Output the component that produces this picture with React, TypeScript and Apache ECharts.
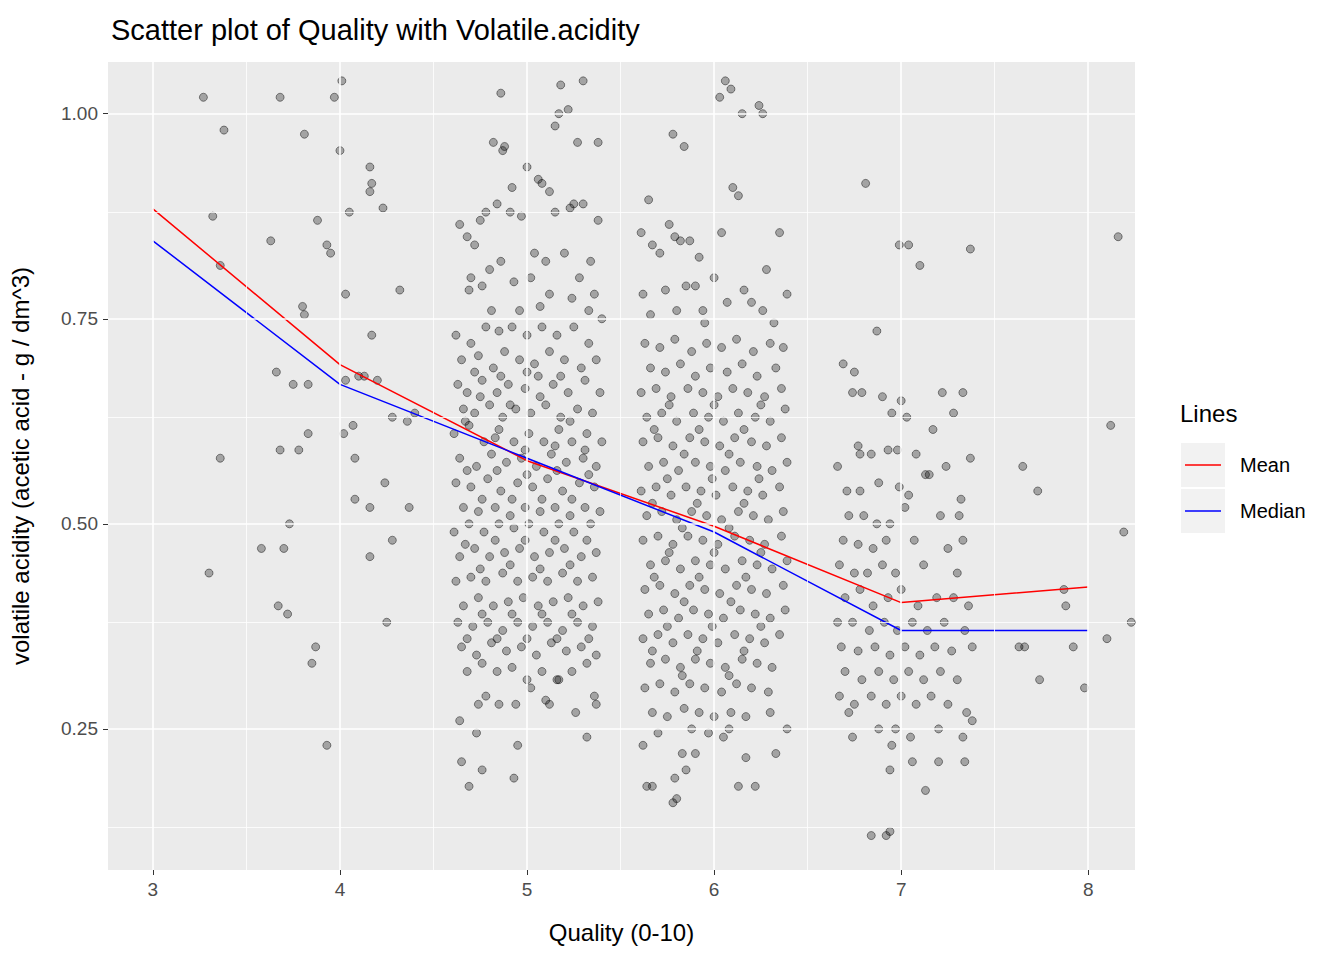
import * as echarts from 'echarts';
import { useEffect, useRef } from 'react';

const qualities = [3, 4, 5, 6, 7, 8];
const meanVals = [0.884, 0.694, 0.577, 0.497, 0.404, 0.423];
const medianVals = [0.845, 0.67, 0.58, 0.49, 0.37, 0.37];

const xMajor = [3, 4, 5, 6, 7, 8];
const xMinor = [3.5, 4.5, 5.5, 6.5, 7.5];
const yMajor = [0.25, 0.5, 0.75, 1.0];
const yMinor = [0.125, 0.375, 0.625, 0.875];

// jittered points [quality + jitter, volatile acidity]
const lowPts: number[][] = [
  [3.27, 1.02], [3.38, 0.98], [3.32, 0.875], [3.36, 0.815], [3.3, 0.44], [3.36, 0.58], [3.63, 0.845], [3.66, 0.685],
  [3.68, 0.59], [3.58, 0.47], [3.67, 0.4], [3.72, 0.39], [3.7, 0.47], [3.73, 0.5], [3.75, 0.67], [3.78, 0.59],
  [3.68, 1.02], [3.81, 0.975], [3.8, 0.765], [3.81, 0.755], [3.83, 0.67], [3.83, 0.61], [3.85, 0.33], [3.87, 0.35],
  [3.88, 0.87], [3.93, 0.84], [3.95, 0.83], [3.93, 0.23], [3.97, 1.02], [4.0, 0.955], [4.01, 1.04], [4.02, 0.61],
  [4.03, 0.78], [4.05, 0.88], [4.07, 0.62], [4.08, 0.58], [4.08, 0.53], [4.1, 0.68], [4.16, 0.935], [4.17, 0.915],
  [4.16, 0.905], [4.13, 0.68], [4.17, 0.73], [4.16, 0.52], [4.16, 0.46], [4.2, 0.675], [4.23, 0.885], [4.24, 0.55],
  [4.25, 0.38], [4.28, 0.48], [4.28, 0.63], [4.32, 0.785], [4.36, 0.625], [4.37, 0.52], [4.4, 0.635], [4.03, 0.675],
];
const q5Pts: number[][] = [
  [4.86, 1.025], [5.18, 1.035], [5.3, 1.04], [5.17, 1.0], [5.22, 1.005], [5.15, 0.985], [5.38, 0.965], [5.27, 0.965],
  [4.82, 0.965], [4.88, 0.96], [4.87, 0.955], [5.0, 0.935], [5.06, 0.92], [5.08, 0.915], [4.92, 0.91], [5.12, 0.905],
  [5.25, 0.89], [5.3, 0.89], [5.23, 0.885], [4.75, 0.87], [4.78, 0.88], [4.84, 0.89], [4.91, 0.88], [4.97, 0.875],
  [5.15, 0.88], [5.38, 0.87], [4.64, 0.865], [4.68, 0.85], [4.72, 0.84], [4.86, 0.82], [4.8, 0.81], [5.04, 0.83],
  [5.1, 0.82], [5.2, 0.83], [5.34, 0.82], [4.7, 0.8], [4.76, 0.79], [4.93, 0.795], [5.02, 0.8], [5.28, 0.8],
  [5.36, 0.78], [4.69, 0.785], [5.12, 0.78], [5.24, 0.775], [4.81, 0.76], [4.96, 0.76], [5.07, 0.765], [5.33, 0.76],
  [5.4, 0.75], [4.62, 0.73], [4.7, 0.72], [4.78, 0.74], [4.85, 0.735], [4.92, 0.74], [5.0, 0.73], [5.08, 0.74],
  [5.16, 0.73], [5.25, 0.74], [5.33, 0.72], [4.65, 0.7], [4.74, 0.705], [4.82, 0.69], [4.88, 0.71], [4.96, 0.7],
  [5.04, 0.695], [5.12, 0.71], [5.2, 0.7], [5.29, 0.69], [5.37, 0.7], [4.63, 0.67], [4.68, 0.66], [4.76, 0.675],
  [4.84, 0.66], [4.9, 0.67], [4.99, 0.665], [5.06, 0.68], [5.14, 0.67], [5.22, 0.66], [5.31, 0.675], [5.39, 0.66],
  [4.66, 0.64], [4.72, 0.635], [4.8, 0.645], [4.87, 0.63], [4.94, 0.64], [5.02, 0.635], [5.1, 0.645], [5.18, 0.63],
  [5.27, 0.64], [5.35, 0.635], [4.61, 0.61], [4.69, 0.62], [4.77, 0.6], [4.85, 0.615], [4.93, 0.6], [5.01, 0.61],
  [5.09, 0.6], [5.17, 0.615], [5.24, 0.6], [5.32, 0.61], [5.4, 0.6], [4.64, 0.58], [4.73, 0.57], [4.81, 0.585],
  [4.89, 0.575], [4.97, 0.58], [5.05, 0.57], [5.13, 0.585], [5.21, 0.575], [5.3, 0.58], [5.37, 0.57], [4.62, 0.55],
  [4.7, 0.545], [4.79, 0.555], [4.86, 0.54], [4.95, 0.55], [5.03, 0.545], [5.11, 0.555], [5.19, 0.54], [5.28, 0.55],
  [5.36, 0.545], [4.66, 0.52], [4.74, 0.515], [4.83, 0.52], [4.91, 0.51], [4.99, 0.52], [5.07, 0.515], [5.15, 0.52],
  [5.23, 0.51], [5.31, 0.52], [5.39, 0.515], [4.61, 0.49], [4.69, 0.5], [4.77, 0.49], [4.85, 0.5], [4.93, 0.495],
  [5.01, 0.5], [5.09, 0.49], [5.17, 0.5], [5.25, 0.49], [5.34, 0.5], [4.64, 0.46], [4.72, 0.47], [4.8, 0.46],
  [4.88, 0.465], [4.96, 0.47], [5.04, 0.46], [5.12, 0.465], [5.2, 0.47], [5.29, 0.46], [5.37, 0.465], [4.62, 0.43],
  [4.7, 0.435], [4.78, 0.43], [4.87, 0.44], [4.95, 0.43], [5.03, 0.435], [5.11, 0.43], [5.19, 0.44], [5.27, 0.43],
  [5.35, 0.435], [4.66, 0.4], [4.74, 0.41], [4.82, 0.4], [4.9, 0.405], [4.98, 0.41], [5.06, 0.4], [5.14, 0.405],
  [5.22, 0.41], [5.3, 0.4], [5.38, 0.405], [4.63, 0.38], [4.71, 0.375], [4.79, 0.38], [4.87, 0.37], [4.95, 0.38],
  [5.03, 0.375], [5.11, 0.38], [5.19, 0.37], [5.27, 0.38], [5.35, 0.375], [4.65, 0.35], [4.73, 0.34], [4.81, 0.355],
  [4.89, 0.345], [4.97, 0.35], [5.05, 0.34], [5.13, 0.355], [5.21, 0.345], [5.29, 0.35], [5.37, 0.34], [4.68, 0.32],
  [4.76, 0.33], [4.84, 0.32], [4.92, 0.325], [5.0, 0.31], [5.08, 0.32], [5.16, 0.31], [5.24, 0.32], [5.32, 0.33],
  [4.64, 0.26], [4.74, 0.28], [4.78, 0.29], [4.85, 0.28], [4.93, 0.19], [4.76, 0.2], [4.73, 0.245], [4.65, 0.21],
  [4.69, 0.18], [4.95, 0.23], [4.94, 0.28], [5.1, 0.285], [5.12, 0.28], [5.17, 0.31], [5.26, 0.27], [5.32, 0.24],
  [5.36, 0.29], [5.37, 0.28], [5.02, 0.3],
  [4.67, 0.625], [4.75, 0.655], [4.83, 0.605], [4.91, 0.645], [4.99, 0.59], [5.07, 0.655], [5.15, 0.595], [5.23, 0.625],
  [5.31, 0.59], [4.68, 0.565], [4.76, 0.53], [4.84, 0.565], [4.92, 0.53], [5.0, 0.56], [5.08, 0.53], [5.16, 0.565],
  [5.24, 0.53], [5.33, 0.56], [4.67, 0.475], [4.75, 0.445], [4.83, 0.48], [4.91, 0.45], [4.99, 0.48], [5.07, 0.445],
  [5.15, 0.48], [5.23, 0.45], [5.32, 0.48], [4.68, 0.36], [4.76, 0.39], [4.84, 0.36], [4.92, 0.39], [5.0, 0.36],
  [5.08, 0.39], [5.16, 0.36], [5.24, 0.39], [5.33, 0.36], [4.72, 0.685], [4.86, 0.68], [5.0, 0.685], [5.18, 0.68],
];
const q6Pts: number[][] = [
  [6.06, 1.04], [6.03, 1.02], [6.09, 1.03], [6.24, 1.01], [6.26, 1.0], [6.15, 1.0], [5.78, 0.975], [5.84, 0.96],
  [6.1, 0.91], [6.13, 0.9], [5.65, 0.895], [5.61, 0.855], [5.76, 0.865], [5.79, 0.85], [5.82, 0.845], [5.87, 0.845],
  [6.04, 0.855], [6.35, 0.855], [5.71, 0.83], [5.67, 0.84], [5.92, 0.825], [6.0, 0.8], [6.28, 0.81], [6.39, 0.78],
  [5.62, 0.78], [5.74, 0.785], [5.85, 0.79], [5.9, 0.79], [6.16, 0.785], [6.2, 0.77], [6.26, 0.76], [5.66, 0.755],
  [5.8, 0.76], [5.94, 0.76], [6.07, 0.77], [6.32, 0.745], [5.95, 0.745], [5.63, 0.72], [5.71, 0.715], [5.79, 0.725],
  [5.88, 0.71], [5.96, 0.72], [6.04, 0.715], [6.12, 0.725], [6.21, 0.71], [6.3, 0.72], [6.37, 0.715], [5.66, 0.69],
  [5.74, 0.685], [5.82, 0.695], [5.9, 0.68], [5.98, 0.69], [6.07, 0.685], [6.15, 0.695], [6.23, 0.68], [6.33, 0.69],
  [5.61, 0.66], [5.69, 0.665], [5.77, 0.655], [5.86, 0.665], [5.94, 0.66], [6.02, 0.655], [6.1, 0.665], [6.18, 0.66],
  [6.27, 0.655], [6.36, 0.665], [5.64, 0.63], [5.72, 0.635], [5.8, 0.625], [5.89, 0.635], [5.97, 0.63], [6.05, 0.625],
  [6.13, 0.635], [6.22, 0.63], [6.3, 0.625], [6.38, 0.64], [5.62, 0.6], [5.7, 0.605], [5.78, 0.595], [5.87, 0.605],
  [5.95, 0.6], [6.03, 0.595], [6.11, 0.605], [6.2, 0.6], [6.28, 0.595], [6.36, 0.605], [5.65, 0.57], [5.73, 0.575],
  [5.81, 0.565], [5.9, 0.575], [5.98, 0.57], [6.06, 0.565], [6.14, 0.575], [6.23, 0.57], [6.31, 0.565], [6.39, 0.575],
  [5.61, 0.54], [5.69, 0.545], [5.77, 0.535], [5.85, 0.545], [5.93, 0.54], [6.01, 0.535], [6.1, 0.545], [6.18, 0.54],
  [6.26, 0.535], [6.35, 0.545], [5.64, 0.51], [5.72, 0.515], [5.8, 0.505], [5.88, 0.515], [5.96, 0.51], [6.04, 0.505],
  [6.13, 0.515], [6.21, 0.51], [6.29, 0.505], [6.37, 0.515], [5.62, 0.48], [5.7, 0.485], [5.78, 0.475], [5.86, 0.485],
  [5.94, 0.48], [6.02, 0.475], [6.11, 0.485], [6.19, 0.48], [6.27, 0.475], [6.36, 0.485], [5.66, 0.45], [5.74, 0.455],
  [5.82, 0.445], [5.9, 0.455], [5.98, 0.45], [6.06, 0.445], [6.15, 0.455], [6.23, 0.45], [6.31, 0.445], [6.39, 0.455],
  [5.63, 0.42], [5.71, 0.425], [5.79, 0.415], [5.87, 0.425], [5.95, 0.42], [6.03, 0.415], [6.12, 0.425], [6.2, 0.42],
  [6.28, 0.415], [6.37, 0.425], [5.65, 0.39], [5.73, 0.395], [5.81, 0.385], [5.89, 0.395], [5.97, 0.39], [6.05, 0.385],
  [6.14, 0.395], [6.22, 0.39], [6.3, 0.385], [6.38, 0.395], [5.62, 0.36], [5.7, 0.365], [5.78, 0.355], [5.86, 0.365],
  [5.94, 0.36], [6.02, 0.355], [6.11, 0.365], [6.19, 0.36], [6.27, 0.355], [6.35, 0.365], [5.66, 0.33], [5.74, 0.335],
  [5.82, 0.325], [5.9, 0.335], [5.98, 0.33], [6.06, 0.325], [6.15, 0.335], [6.23, 0.33], [6.31, 0.325], [5.63, 0.3],
  [5.71, 0.305], [5.79, 0.295], [5.87, 0.305], [5.95, 0.3], [6.04, 0.295], [6.12, 0.305], [6.2, 0.3], [6.29, 0.295],
  [5.67, 0.27], [5.75, 0.265], [5.84, 0.275], [5.92, 0.27], [6.0, 0.265], [6.09, 0.27], [6.17, 0.265], [5.7, 0.245],
  [5.88, 0.25], [5.97, 0.245], [6.08, 0.25], [5.64, 0.18], [5.67, 0.18], [5.78, 0.16], [5.8, 0.165], [5.79, 0.19],
  [5.85, 0.2], [5.83, 0.22], [5.9, 0.22], [6.05, 0.24], [6.13, 0.18], [6.22, 0.18], [6.17, 0.215], [6.33, 0.22],
  [5.62, 0.23], [6.39, 0.25], [6.3, 0.27],
  [5.68, 0.615], [5.76, 0.645], [5.84, 0.585], [5.92, 0.615], [6.0, 0.645], [6.08, 0.585], [6.16, 0.615], [6.25, 0.645],
  [5.67, 0.525], [5.75, 0.555], [5.83, 0.495], [5.91, 0.525], [5.99, 0.555], [6.08, 0.495], [6.16, 0.525], [6.24, 0.555],
  [5.68, 0.435], [5.76, 0.465], [5.84, 0.405], [5.92, 0.435], [6.0, 0.465], [6.09, 0.405], [6.17, 0.435], [6.25, 0.465],
  [5.67, 0.345], [5.75, 0.375], [5.83, 0.315], [5.91, 0.345], [5.99, 0.375], [6.08, 0.315], [6.16, 0.345], [6.25, 0.375],
];
const q7Pts: number[][] = [
  [6.81, 0.915], [6.99, 0.84], [7.04, 0.84], [7.1, 0.815], [7.37, 0.835], [6.87, 0.735], [6.69, 0.695], [6.75, 0.685],
  [6.74, 0.66], [6.79, 0.66], [6.9, 0.655], [7.0, 0.65], [7.22, 0.66], [7.33, 0.66], [7.28, 0.635], [6.95, 0.635],
  [7.03, 0.63], [7.17, 0.615], [6.77, 0.595], [6.78, 0.585], [6.84, 0.585], [6.93, 0.59], [6.98, 0.59], [7.08, 0.585],
  [7.13, 0.56], [7.24, 0.57], [7.37, 0.58], [6.66, 0.57], [6.71, 0.54], [6.78, 0.54], [6.88, 0.55], [6.99, 0.545],
  [7.04, 0.535], [7.15, 0.56], [7.32, 0.53], [6.72, 0.51], [6.8, 0.51], [6.87, 0.5], [6.94, 0.5], [7.02, 0.52],
  [7.21, 0.51], [7.31, 0.51], [6.69, 0.48], [6.77, 0.475], [6.85, 0.47], [6.92, 0.48], [7.07, 0.48], [7.25, 0.47],
  [7.33, 0.48], [6.67, 0.45], [6.75, 0.44], [6.82, 0.44], [6.9, 0.45], [6.97, 0.44], [7.12, 0.45], [7.3, 0.44],
  [6.7, 0.41], [6.78, 0.42], [6.85, 0.4], [6.93, 0.41], [7.0, 0.42], [7.09, 0.4], [7.19, 0.41], [7.28, 0.41],
  [7.36, 0.4], [6.66, 0.38], [6.74, 0.38], [6.83, 0.37], [6.91, 0.38], [6.98, 0.37], [7.06, 0.38], [7.14, 0.37],
  [7.23, 0.38], [7.34, 0.37], [6.68, 0.35], [6.77, 0.345], [6.86, 0.35], [6.94, 0.34], [7.02, 0.35], [7.1, 0.34],
  [7.18, 0.35], [7.27, 0.345], [7.38, 0.35], [6.7, 0.32], [6.79, 0.31], [6.88, 0.32], [6.96, 0.31], [7.04, 0.32],
  [7.12, 0.31], [7.21, 0.32], [7.3, 0.31], [6.67, 0.29], [6.75, 0.28], [6.84, 0.29], [6.92, 0.28], [7.0, 0.29],
  [7.08, 0.28], [7.16, 0.29], [7.25, 0.28], [7.35, 0.27], [6.72, 0.27], [6.88, 0.25], [6.97, 0.25], [7.05, 0.24],
  [7.2, 0.25], [7.33, 0.24], [7.38, 0.26], [6.74, 0.24], [6.95, 0.23], [6.94, 0.2], [7.06, 0.21], [7.13, 0.175],
  [7.2, 0.21], [7.34, 0.21], [6.84, 0.12], [6.92, 0.12], [6.94, 0.125],
];
const q8Pts: number[][] = [
  [7.63, 0.35], [7.66, 0.35], [7.65, 0.57], [7.73, 0.54], [7.74, 0.31], [7.87, 0.42], [7.88, 0.4], [7.92, 0.35],
  [7.98, 0.3], [8.1, 0.36], [8.12, 0.62], [8.16, 0.85], [8.19, 0.49], [8.23, 0.38],
];

const FONT = 'Arial, "Liberation Sans", sans-serif';

export default function App() {
  const ref = useRef<HTMLDivElement | null>(null);

  useEffect(() => {
    document.body.style.margin = '0';
    if (!ref.current) return undefined;
    const chart = echarts.init(ref.current, undefined, { renderer: 'svg' });

    const gridLines = [
      ...xMinor.map((v) => ({ xAxis: v, lineStyle: { width: 0.8 } })),
      ...yMinor.map((v) => ({ yAxis: v, lineStyle: { width: 0.8 } })),
      ...xMajor.map((v) => ({ xAxis: v, lineStyle: { width: 1.6 } })),
      ...yMajor.map((v) => ({ yAxis: v, lineStyle: { width: 1.6 } })),
    ];
    const points = [...lowPts, ...q5Pts, ...q6Pts, ...q7Pts, ...q8Pts];

    chart.setOption({
      animation: false,
      title: {
        text: 'Scatter plot of Quality with Volatile.acidity',
        left: 106,
        top: 10,
        textStyle: { fontFamily: FONT, fontSize: 29, fontWeight: 'normal', color: '#000' },
      },
      grid: { left: 108, right: 209, top: 62, bottom: 90, show: true, backgroundColor: '#ebebeb', borderWidth: 0 },
      xAxis: {
        type: 'value',
        min: 2.76,
        max: 8.25,
        name: 'Quality (0-10)',
        nameLocation: 'middle',
        nameGap: 50,
        nameTextStyle: { fontFamily: FONT, fontSize: 24, color: '#000' },
        axisLine: { show: false },
        splitLine: { show: false },
        axisTick: { show: true, customValues: xMajor, length: 5, lineStyle: { color: '#333' } },
        axisLabel: { customValues: xMajor, fontFamily: FONT, fontSize: 19, color: '#4d4d4d', margin: 10 },
      },
      yAxis: {
        type: 'value',
        min: 0.078,
        max: 1.063,
        name: 'volatile acidity (acetic acid - g / dm^3)',
        nameLocation: 'middle',
        nameGap: 76,
        nameTextStyle: { fontFamily: FONT, fontSize: 24, color: '#000' },
        axisLine: { show: false },
        splitLine: { show: false },
        axisTick: { show: true, customValues: yMajor, length: 5, lineStyle: { color: '#333' } },
        axisLabel: {
          customValues: yMajor,
          formatter: (v: number) => v.toFixed(2),
          fontFamily: FONT,
          fontSize: 19,
          color: '#4d4d4d',
          margin: 10,
        },
      },
      series: [
        {
          type: 'line',
          data: [],
          silent: true,
          z: 1,
          markLine: {
            silent: true,
            symbol: 'none',
            label: { show: false },
            lineStyle: { color: '#fff', type: 'solid' },
            data: gridLines,
          },
        },
        {
          type: 'scatter',
          data: points,
          symbolSize: 8,
          z: 2,
          itemStyle: { color: 'rgba(0,0,0,0.38)', borderColor: 'rgba(0,0,0,0.55)', borderWidth: 1 },
        },
        {
          type: 'line',
          name: 'Mean',
          data: qualities.map((q, i) => [q, meanVals[i]]),
          showSymbol: false,
          z: 3,
          lineStyle: { color: '#ff0000', width: 1.5 },
        },
        {
          type: 'line',
          name: 'Median',
          data: qualities.map((q, i) => [q, medianVals[i]]),
          showSymbol: false,
          z: 3,
          lineStyle: { color: '#0000ff', width: 1.5 },
        },
      ],
      graphic: [
        { type: 'text', left: 1180, top: 401, style: { text: 'Lines', fontFamily: FONT, fontSize: 24, fill: '#000' } },
        { type: 'rect', shape: { x: 1181, y: 443, width: 44, height: 44 }, style: { fill: '#f2f2f2' } },
        { type: 'rect', shape: { x: 1181, y: 489, width: 44, height: 44 }, style: { fill: '#f2f2f2' } },
        { type: 'line', shape: { x1: 1185, y1: 465, x2: 1221, y2: 465 }, style: { stroke: '#ff0000', lineWidth: 1.5 } },
        { type: 'line', shape: { x1: 1185, y1: 511, x2: 1221, y2: 511 }, style: { stroke: '#0000ff', lineWidth: 1.5 } },
        { type: 'text', left: 1240, top: 455, style: { text: 'Mean', fontFamily: FONT, fontSize: 20, fill: '#000' } },
        { type: 'text', left: 1240, top: 501, style: { text: 'Median', fontFamily: FONT, fontSize: 20, fill: '#000' } },
      ],
    });

    return () => chart.dispose();
  }, []);

  return <div ref={ref} style={{ width: 1344, height: 960 }} />;
}
